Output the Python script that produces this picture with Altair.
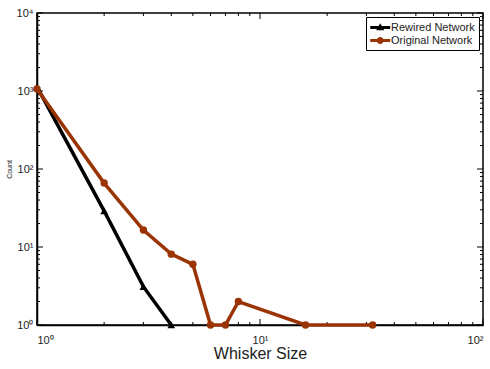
import altair as alt
import pandas as pd

# ---- data ----
rew_x = [1, 2, 3, 4]
rew_y = [1130, 29, 3.1, 1]
orig_x = [1, 2, 3, 4, 5, 6, 7, 8, 16, 32]
orig_y = [1060, 66, 16.5, 8.1, 6.0, 1, 1, 2, 1, 1]
series_names = ["Rewired Network", "Original Network"]
series_colors = ["#000000", "#9a3404"]

x_major = [1, 10, 100]
x_minor = [2, 3, 4, 5, 6, 7, 8, 9, 20, 30, 40, 50, 60, 70, 80, 90]
y_major = [1, 10, 100, 1000, 10000]
y_minor = [m * 10 ** k for k in range(4) for m in range(2, 10)]

W, H = 446, 312
FONT = "Liberation Sans"

df = pd.DataFrame(
    {"x": rew_x + orig_x,
     "y": rew_y + orig_y,
     "s": [series_names[0]] * len(rew_x) + [series_names[1]] * len(orig_x)}
)

sup = "['⁰','¹','²','³','⁴'][round(log(datum.value)/log(10))]"

xscale = alt.Scale(type="log", domain=[1, 100], nice=False)
yscale = alt.Scale(type="log", domain=[1, 10000], nice=False)
cscale = alt.Scale(domain=series_names, range=series_colors)

# legend glyphs: line segment with marker (in symbol unit coordinates)
line_part = "M-1,-0.24H2.2V0.24H-1Z"
tri_path = line_part + " M0.6,-0.7L1.25,0.45L-0.05,0.45Z"
circ_path = line_part + " M0.05,0A0.55,0.55 0 1,1 1.15,0A0.55,0.55 0 1,1 0.05,0Z"
legend_shapes = alt.Scale(domain=series_names, range=[tri_path, circ_path])

xaxis = alt.Axis(values=x_major, labelExpr="'10' + " + sup, tickSize=0, grid=False,
                 domainColor="black", domainWidth=1.5, labelFont=FONT, labelFontSize=11,
                 labelColor="#222", labelPadding=9, title="Whisker Size", titleFont=FONT,
                 titleFontSize=16, titleFontWeight="normal", titleColor="#222",
                 titlePadding=0)
yaxis = alt.Axis(values=y_major, labelExpr="'10' + " + sup, tickSize=0, grid=False,
                 domainColor="black", domainWidth=1.5, labelFont=FONT, labelFontSize=11,
                 labelColor="#222", labelPadding=4, title="Count", titleFont=FONT,
                 titleFontSize=7, titleFontWeight="normal", titleColor="#222",
                 titlePadding=4)

base = alt.Chart(df)
lines = base.mark_line(strokeWidth=3.5).encode(
    x=alt.X("x:Q", scale=xscale, axis=xaxis),
    y=alt.Y("y:Q", scale=yscale, axis=yaxis),
    color=alt.Color("s:N", scale=cscale, sort=series_names),
    detail="s:N",
)
pts_rew = base.transform_filter(alt.datum.s == series_names[0]).mark_point(
    filled=True, size=60, opacity=1, shape="triangle-up").encode(
    x=alt.X("x:Q", scale=xscale),
    y=alt.Y("y:Q", scale=yscale),
    color=alt.Color("s:N", scale=cscale, sort=series_names),
)
pts_orig = base.transform_filter(alt.datum.s == series_names[1]).mark_point(
    filled=True, size=55, opacity=1, shape="circle").encode(
    x=alt.X("x:Q", scale=xscale),
    y=alt.Y("y:Q", scale=yscale),
    color=alt.Color("s:N", scale=cscale, sort=series_names),
)
legend_layer = base.transform_filter("false").mark_point(filled=True, opacity=1).encode(
    x=alt.X("x:Q", scale=xscale),
    y=alt.Y("y:Q", scale=yscale),
    color=alt.Color("s:N", scale=cscale, sort=series_names,
                    legend=alt.Legend(title=None, orient="top-right", offset=4,
                                      strokeColor="black", fillColor="white",
                                      padding=4, labelFont=FONT, labelFontSize=11,
                                      labelColor="#222", symbolSize=156,
                                      symbolStrokeWidth=0, symbolOpacity=1,
                                      labelOffset=8, rowPadding=1)),
    shape=alt.Shape("s:N", scale=legend_shapes, sort=series_names),
)

def ticks_x(vals, length):
    d = pd.DataFrame({"v": vals})
    c = alt.Chart(d)
    bottom = c.mark_rule(color="black", strokeWidth=1).encode(
        x=alt.X("v:Q", scale=xscale), y=alt.value(H), y2=alt.value(H - length))
    top = c.mark_rule(color="black", strokeWidth=1).encode(
        x=alt.X("v:Q", scale=xscale), y=alt.value(0), y2=alt.value(length))
    return [bottom, top]

def ticks_y(vals, length):
    d = pd.DataFrame({"v": vals})
    c = alt.Chart(d)
    left = c.mark_rule(color="black", strokeWidth=1).encode(
        y=alt.Y("v:Q", scale=yscale), x=alt.value(0), x2=alt.value(length))
    right = c.mark_rule(color="black", strokeWidth=1).encode(
        y=alt.Y("v:Q", scale=yscale), x=alt.value(W), x2=alt.value(W - length))
    return [left, right]

tick_layers = (ticks_x(x_major, 6) + ticks_x(x_minor, 3)
               + ticks_y(y_major, 6) + ticks_y(y_minor, 3))

chart = alt.layer(*tick_layers, lines, pts_rew, pts_orig, legend_layer).properties(
    width=W, height=H,
    background="white",
    padding={"left": 37, "top": 13, "right": 7, "bottom": 44},
    autosize=alt.AutoSizeParams(type="none"),
).configure_view(stroke="black", strokeWidth=1.5)

chart.save("out.html", embed_options={"renderer": "svg", "actions": False})
